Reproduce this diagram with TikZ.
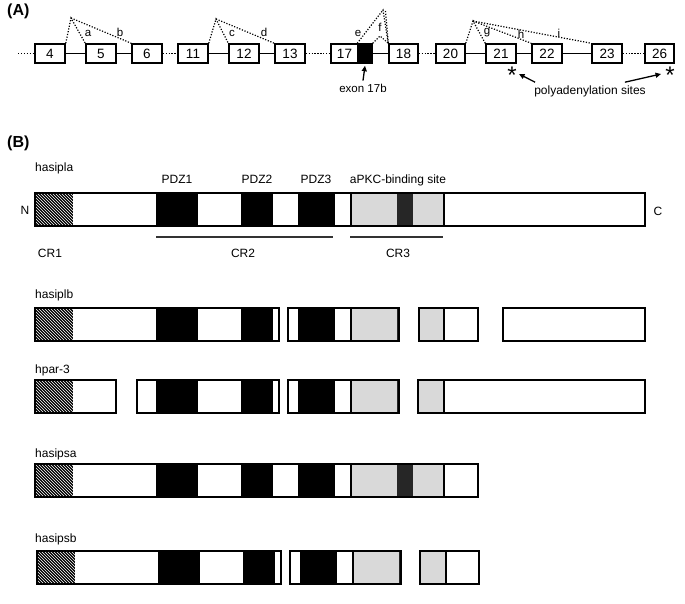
\documentclass[tikz,border=0pt]{standalone}
\usepackage{fontspec}
\setmainfont{Liberation Sans}
\usetikzlibrary{patterns,arrows.meta}
\newcommand{\domfill}{%
  \fill[black] (35,0) rectangle (73,33);
  \fill[pattern=north west lines, pattern color=white] (35,0) rectangle (73,33);
  \fill[black] (156,0) rectangle (198,33);
  \fill[black] (241,0) rectangle (273,33);
  \fill[black] (298,0) rectangle (335,33);
  \fill[gray!30] (351,0) rectangle (397,33);
  \fill[black!85] (397,0) rectangle (413,33);
  \fill[gray!30] (413,0) rectangle (444,33);
  \draw[line width=1.1pt] (351,0) -- (351,33) (444,0) -- (444,33);
}
\newcommand{\pbar}[2]{%
  \begin{scope}\clip (#1,0) rectangle (#2,33); \domfill\end{scope}
  \draw[barline] (#1,0) rectangle (#2,33);
}
\begin{document}
\begin{tikzpicture}[x=1pt,y=-1pt,
  exon/.style={draw,line width=1.5pt,minimum height=19pt,inner sep=0pt,fill=white,
    font=\fontsize{13.5}{13.5}\selectfont},
  intron/.style={line width=1.3pt},
  gapline/.style={line width=1.3pt,dash pattern=on 1.3pt off 1.6pt},
  splice/.style={line width=1.2pt,dash pattern=on 1.2pt off 1.6pt},
  lab/.style={font=\fontsize{11.5}{12}\selectfont,inner sep=0pt},
  txt/.style={font=\fontsize{12}{12}\selectfont,inner sep=0pt},
  panel/.style={font=\fontsize{16}{16}\selectfont\bfseries,inner sep=0pt},
  arr/.style={line width=1.3pt,-{Triangle[length=5.5pt,width=5pt]}},
  barline/.style={line width=1.6pt},
  crline/.style={line width=1.6pt,black!80},
  ast/.style={font=\fontsize{24}{24}\selectfont,inner sep=0pt}
]
\useasboundingbox (0,0) rectangle (685,603);

% ---------------- Panel A ----------------
\node[panel,anchor=west] (pa) at (7,11) {(A)};

\node[exon,minimum width=30pt] (e4)  at (50,53.5) {4};
\node[exon,minimum width=30pt] (e5)  at (101,53.5) {5};
\node[exon,minimum width=30pt] (e6)  at (147,53.5) {6};
\node[exon,minimum width=30pt] (e11) at (193,53.5) {11};
\node[exon,minimum width=30pt] (e12) at (244,53.5) {12};
\node[exon,minimum width=30pt] (e13) at (290,53.5) {13};
\node[exon,minimum width=27pt] (e17) at (344.5,53.5) {17};
\node[exon,minimum width=14pt,fill=black] (e17b) at (365,53.5) {};
\node[exon,minimum width=29pt] (e18) at (403.5,53.5) {18};
\node[exon,minimum width=29pt] (e20) at (450.5,53.5) {20};
\node[exon,minimum width=30pt] (e21) at (501,53.5) {21};
\node[exon,minimum width=30pt] (e22) at (547,53.5) {22};
\node[exon,minimum width=30pt] (e23) at (607,53.5) {23};
\node[exon,minimum width=29pt] (e26) at (659.5,53.5) {26};

\coordinate (st) at (18,53.5);
\draw[gapline] (st) -- (e4.west);
\draw[intron] (e4.east) -- (e5.west);
\draw[intron] (e5.east) -- (e6.west);
\draw[gapline] (e6.east) -- (e11.west);
\draw[intron] (e11.east) -- (e12.west);
\draw[intron] (e12.east) -- (e13.west);
\draw[gapline] (e13.east) -- (e17.west);
\draw[intron] (e17b.east) -- (e18.west);
\draw[gapline] (e18.east) -- (e20.west);
\draw[intron] (e20.east) -- (e21.west);
\draw[intron] (e21.east) -- (e22.west);
\draw[intron] (e22.east) -- (e23.west);
\draw[gapline] (e23.east) -- (e26.west);

% splicing patterns
\coordinate (s1) at (71,18);
\draw[splice] (e4.north east) -- (s1) -- (e5.north west);
\draw[splice] (s1) -- (e6.north west);
\node[lab] (la) at (88,33) {a};
\node[lab] (lb) at (120,32) {b};

\coordinate (s2) at (216,19);
\draw[splice] (e11.north east) -- (s2) -- (e12.north west);
\draw[splice] (s2) -- (e13.north west);
\node[lab] (lc) at (232,33) {c};
\node[lab] (ld) at (264,32) {d};

\coordinate (s3) at (383,10);
\coordinate (s3b) at (385.5,11);
\coordinate (s3f) at (380,36);
\draw[splice] (e17b.north west) -- (s3) -- (e18.north west);
\draw[splice] (s3b) -- (e18.north west);
\draw[splice] (e17b.north east) -- (s3f) -- (e18.north west);
\node[lab] (le) at (358,33) {e};
\node[lab] (lf) at (380,27) {f};

\coordinate (s4) at (473,21);
\draw[splice] (e20.north east) -- (s4) -- (e21.north west);
\draw[splice] (s4) -- (e22.north west);
\draw[splice] (s4) -- (e23.north west);
\node[lab] (lg) at (487,33) {g};
\node[lab] (lh) at (521,34) {h};
\node[lab] (li) at (559,33) {i};

\node[lab] (x17b) at (363,88) {exon 17b};
\draw[arr] ([yshift=3pt]x17b.north) -- ([yshift=-2pt]e17b.south);

\node[ast,anchor=base] (a1) at (512,83) {*};
\node[ast,anchor=base] (a2) at (670,83) {*};
\coordinate (a1t) at (519,74);
\coordinate (a2t) at (661,74);
\node[txt] (poly) at (590,91) {polyadenylation sites};
\draw[arr] ([xshift=1pt,yshift=3pt]poly.north west) -- (a1t);
\draw[arr] ([xshift=-21pt,yshift=3pt]poly.north east) -- (a2t);

% ---------------- Panel B ----------------
\node[panel,anchor=west] (pb) at (7,143) {(B)};

% hasipla
\node[txt,anchor=base west] (n1) at (35,171) {hasipla};
\node[txt,anchor=base] (pdz1) at (177,183) {PDZ1};
\node[txt,anchor=base] (pdz2) at (257,183) {PDZ2};
\node[txt,anchor=base] (pdz3) at (316,183) {PDZ3};
\node[txt,anchor=base] (apkc) at (398,183) {aPKC-binding site};
\node[txt] (nN) at (25,210) {N};
\node[txt] (nC) at (658,211) {C};
\begin{scope}[yshift=-193pt]
  \pbar{35}{645}
\end{scope}
\coordinate (cr2a) at (156,237); \coordinate (cr2b) at (333,237);
\coordinate (cr3a) at (350,237); \coordinate (cr3b) at (443,237);
\draw[crline] (cr2a) -- (cr2b);
\draw[crline] (cr3a) -- (cr3b);
\node[txt,anchor=base] (cr1) at (50,257) {CR1};
\node[txt,anchor=base] (cr2) at (243,257) {CR2};
\node[txt,anchor=base] (cr3) at (398,257) {CR3};

% hasiplb
\node[txt,anchor=base west] (n2) at (35,298) {hasiplb};
\begin{scope}[yshift=-308pt]
  \pbar{35}{279}
  \pbar{288}{399}
  \pbar{419}{478}
  \pbar{503}{645}
\end{scope}

% hpar-3
\node[txt,anchor=base west] (n3) at (35,373) {hpar-3};
\begin{scope}[yshift=-380pt]
  \pbar{35}{116}
  \pbar{137}{279}
  \pbar{288}{399}
  \pbar{418}{645}
\end{scope}

% hasipsa
\node[txt,anchor=base west] (n4) at (35,457) {hasipsa};
\begin{scope}[yshift=-464pt]
  \pbar{35}{478}
\end{scope}

% hasipsb
\node[txt,anchor=base west] (n5) at (35,542) {hasipsb};
\begin{scope}[yshift=-551pt,xshift=2pt]
  \pbar{35}{279}
  \pbar{288}{399}
  \pbar{418}{477}
\end{scope}
\end{tikzpicture}
\end{document}
